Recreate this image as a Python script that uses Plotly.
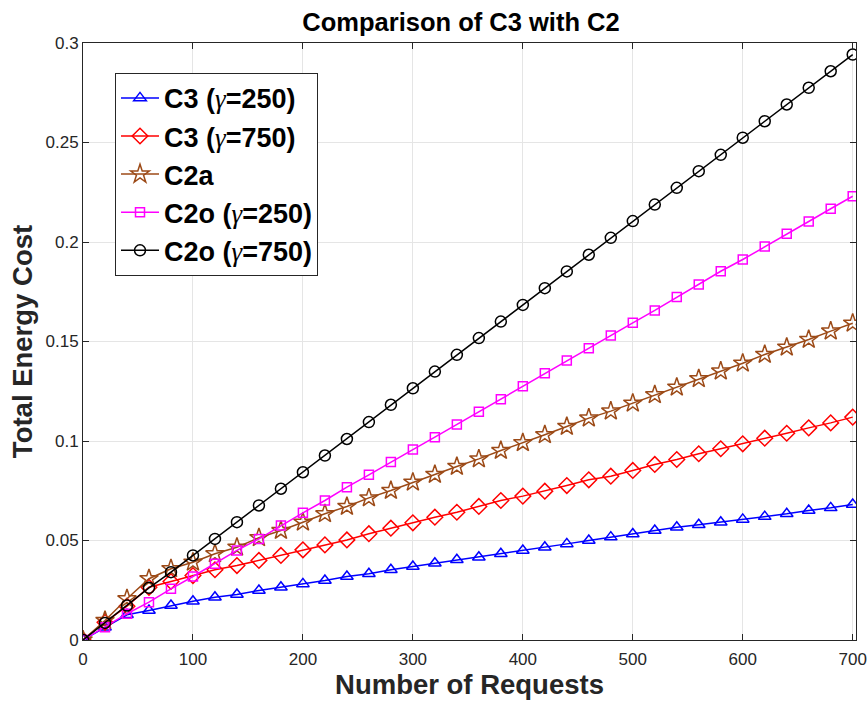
import plotly.graph_objects as go

requests = list(range(0, 701, 20))

c3_g250 = [0, 0.0064, 0.0127, 0.0148, 0.0173, 0.0195, 0.0215, 0.0229, 0.0249, 0.0265, 0.0282, 0.0299,
           0.0319, 0.0333, 0.0353, 0.0369, 0.0386, 0.0403, 0.0416, 0.0433, 0.045, 0.0466, 0.0483, 0.05,
           0.0517, 0.0533, 0.055, 0.0567, 0.0579, 0.0592, 0.0606, 0.062, 0.0634, 0.0651, 0.0664, 0.0681]
c3_g750 = [0, 0.0089, 0.017, 0.0265, 0.0294, 0.0324, 0.0353, 0.0374, 0.04, 0.0425, 0.0453, 0.0478,
           0.0503, 0.0534, 0.0562, 0.0589, 0.0617, 0.0642, 0.0671, 0.0701, 0.0723, 0.0748, 0.0776, 0.0805,
           0.0823, 0.0852, 0.0882, 0.0907, 0.0936, 0.0961, 0.0986, 0.1014, 0.1039, 0.1066, 0.1091, 0.112]
c2a = [0, 0.0098, 0.0207, 0.0308, 0.0358, 0.0391, 0.0433, 0.0466, 0.0514, 0.055, 0.0592, 0.0634,
       0.0671, 0.0714, 0.0751, 0.0793, 0.0832, 0.0872, 0.091, 0.0952, 0.0991, 0.1031, 0.1073, 0.1115,
       0.115, 0.119, 0.1232, 0.127, 0.1313, 0.1351, 0.1391, 0.1435, 0.1471, 0.151, 0.1552, 0.1592]
c2o_g250 = [0, 0.0064, 0.0132, 0.019, 0.0257, 0.0319, 0.0383, 0.045, 0.0508, 0.0575, 0.0639, 0.0701,
            0.0768, 0.083, 0.0895, 0.0957, 0.1019, 0.1083, 0.1147, 0.121, 0.1275, 0.1341, 0.1405, 0.1466,
            0.153, 0.1594, 0.1656, 0.1723, 0.1786, 0.1853, 0.1912, 0.1977, 0.2041, 0.2103, 0.2167, 0.223]
c2o_g750 = [0, 0.0086, 0.0173, 0.0262, 0.0341, 0.0425, 0.0508, 0.0592, 0.0676, 0.076, 0.0843, 0.0927,
            0.101, 0.1095, 0.1182, 0.1265, 0.1349, 0.1433, 0.1517, 0.16, 0.1684, 0.1768, 0.1852, 0.1936,
            0.2021, 0.2105, 0.2188, 0.2272, 0.2356, 0.2438, 0.2524, 0.2607, 0.2691, 0.2775, 0.2858, 0.2942]

x_ticks = [0, 100, 200, 300, 400, 500, 600, 700]
x_ticktext = ["0", "100", "200", "300", "400", "500", "600", "700"]
y_ticks = [0, 0.05, 0.1, 0.15, 0.2, 0.25, 0.3]
y_ticktext = ["0", "0.05", "0.1", "0.15", "0.2", "0.25", "0.3"]

G = "<span style=\"font-family:'Liberation Serif',serif;font-style:italic;font-weight:normal\">γ</span>"
series = [
    ("<b>C3 (</b>" + G + "<b>=250)</b>", c3_g250, "#0000FF", "triangle-up-open", 11),
    ("<b>C3 (</b>" + G + "<b>=750)</b>", c3_g750, "#FF0000", "diamond-open", 12),
    ("<b>C2a</b>", c2a, "#9C4A17", "star-open", 14),
    ("<b>C2o (</b>" + G + "<b>=250)</b>", c2o_g250, "#FF00FF", "square-open", 9),
    ("<b>C2o (</b>" + G + "<b>=750)</b>", c2o_g750, "#000000", "circle-open", 11),
]

fig = go.Figure()
for name, ys, color, sym, sz in series:
    fig.add_trace(go.Scatter(
        x=requests, y=ys, name=name, mode="lines+markers",
        line=dict(color=color, width=1.5),
        marker=dict(symbol=sym, size=sz, color=color,
                    line=dict(width=1.5, color=color)),
    ))

axis_color = "#262626"
fig.update_layout(
    width=868, height=707,
    paper_bgcolor="white", plot_bgcolor="white",
    margin=dict(l=83, r=12, t=43, b=67),
    font=dict(family="Liberation Sans, Arial, sans-serif", color=axis_color),
    title=dict(text="<b>Comparison of C3 with C2</b>", x=0.489, xanchor="center",
               xref="paper", y=0.981, yanchor="top",
               font=dict(size=25.5, color="black")),
    showlegend=True,
    legend=dict(x=0.0414, y=0.950, xanchor="left", yanchor="top",
                bgcolor="white", bordercolor="#262626", borderwidth=1,
                font=dict(size=27, color="black", family="Liberation Sans, Arial, sans-serif"),
                itemwidth=38, tracegroupgap=0),
)
fig.update_xaxes(
    range=[0, 703], tickvals=x_ticks, ticktext=x_ticktext, automargin=False,
    showgrid=True, gridcolor="#e5e5e5", gridwidth=1,
    showline=True, linecolor=axis_color, linewidth=1, mirror="ticks",
    ticks="inside", ticklen=6, tickcolor=axis_color,
    tickfont=dict(size=17, color=axis_color), ticklabelstandoff=4,
    zeroline=False,
    title=dict(text="<b>Number of Requests</b>", font=dict(size=27.5, color=axis_color), standoff=6),
)
fig.update_yaxes(
    range=[0, 0.3], tickvals=y_ticks, ticktext=y_ticktext, automargin=False,
    showgrid=True, gridcolor="#e5e5e5", gridwidth=1,
    showline=True, linecolor=axis_color, linewidth=1, mirror="ticks",
    ticks="inside", ticklen=6, tickcolor=axis_color,
    tickfont=dict(size=17, color=axis_color),
    zeroline=False,
    title=dict(text="<b>Total Energy Cost</b>", font=dict(size=27.5, color=axis_color), standoff=4),
)

fig.write_html("out.html", config={"displayModeBar": False},
               post_script="document.body.style.margin='0';document.body.style.overflow='hidden';")
